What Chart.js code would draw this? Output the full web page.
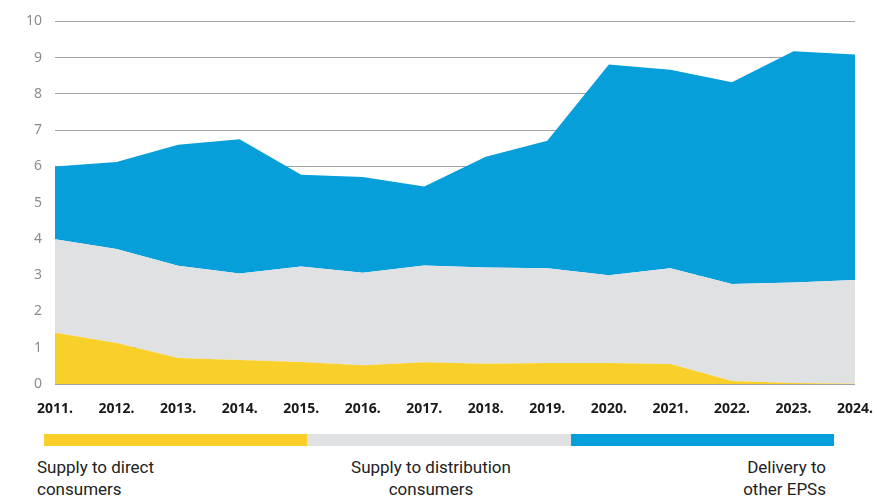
<!DOCTYPE html>
<html>
<head>
<meta charset="utf-8">
<script src="https://cdn.jsdelivr.net/npm/chart.js@4"></script>
<style>
  body { margin: 0; background: #fff; width: 877px; height: 497px; overflow: hidden; position: relative; }
  #wrap { position: absolute; left: 0; top: 0; width: 877px; height: 420px; }
  .bar { position: absolute; top: 434px; height: 12px; }
  .lbl { position: absolute; top: 456px; font-family: Roboto, sans-serif; font-size: 17px; line-height: 22px; color: #222; }
</style>
</head>
<body>
<div id="wrap"><canvas id="chart"></canvas></div>
<div id="legend"></div>
<script>
const years = ['2011.', '2012.', '2013.', '2014.', '2015.', '2016.', '2017.', '2018.', '2019.', '2020.', '2021.', '2022.', '2023.', '2024.'];
const directConsumers = [1.41, 1.13, 0.72, 0.66, 0.61, 0.52, 0.60, 0.56, 0.58, 0.58, 0.55, 0.08, 0.03, 0.01];
const distributionConsumers = [2.58, 2.59, 2.54, 2.39, 2.63, 2.55, 2.67, 2.65, 2.61, 2.42, 2.64, 2.68, 2.77, 2.86];
const otherEPS = [2.01, 2.40, 3.34, 3.70, 2.53, 2.64, 2.18, 3.06, 3.52, 5.81, 5.48, 5.56, 6.38, 6.22];
const seriesNames = ['Supply to direct\nconsumers', 'Supply to distribution\nconsumers', 'Delivery to\nother EPSs'];
const colors = ['#f9d02a', '#e0e1e3', '#069fda'];

const ctx = document.getElementById('chart').getContext('2d');
const chart = new Chart(ctx, {
  type: 'line',
  data: {
    labels: years,
    datasets: [
      { label: seriesNames[0], data: directConsumers, backgroundColor: colors[0], fill: 'origin' },
      { label: seriesNames[1], data: distributionConsumers, backgroundColor: colors[1], fill: '-1' },
      { label: seriesNames[2], data: otherEPS, backgroundColor: colors[2], fill: '-1' }
    ]
  },
  options: {
    responsive: true,
    maintainAspectRatio: false,
    animation: false,
    layout: { padding: { top: 19, right: 22, left: 0, bottom: 0 } },
    elements: { point: { radius: 0 }, line: { borderWidth: 0, tension: 0 } },
    plugins: { legend: { display: false }, tooltip: { enabled: false } },
    scales: {
      x: {
        grid: { display: false, drawTicks: false },
        border: { display: false },
        ticks: { color: '#1a1a1a', padding: 17, maxRotation: 0, font: { family: 'Noto Sans', size: 14, weight: 'bold' } },
        afterFit: s => { s.height = 36; s.paddingLeft = 0; s.paddingRight = 0; }
      },
      y: {
        stacked: true,
        min: 0, max: 10,
        grid: { color: '#a3a3a3', drawTicks: false },
        border: { display: false },
        ticks: { stepSize: 1, color: '#8c8c8c', padding: 13, font: { family: 'Noto Sans', size: 14 } },
        afterFit: s => { s.width = 55; }
      }
    }
  }
});

// legend: coloured strips with captions underneath
const legend = document.getElementById('legend');
const stripX = [44, 307, 571, 834];
const align = ['left', 'center', 'right'];
const textPos = [{ left: 37 }, { center: 431 }, { right: 877 - 826 }];
seriesNames.forEach((name, i) => {
  const b = document.createElement('div');
  b.className = 'bar';
  b.style.left = stripX[i] + 'px';
  b.style.width = (stripX[i + 1] - stripX[i]) + 'px';
  b.style.background = colors[i];
  legend.appendChild(b);
  const t = document.createElement('div');
  t.className = 'lbl';
  t.style.textAlign = align[i];
  t.innerHTML = name.replace('\n', '<br>');
  if (textPos[i].left !== undefined) t.style.left = textPos[i].left + 'px';
  if (textPos[i].right !== undefined) t.style.right = textPos[i].right + 'px';
  if (textPos[i].center !== undefined) { t.style.left = (textPos[i].center - 150) + 'px'; t.style.width = '300px'; }
  legend.appendChild(t);
});
</script>
</body>
</html>
